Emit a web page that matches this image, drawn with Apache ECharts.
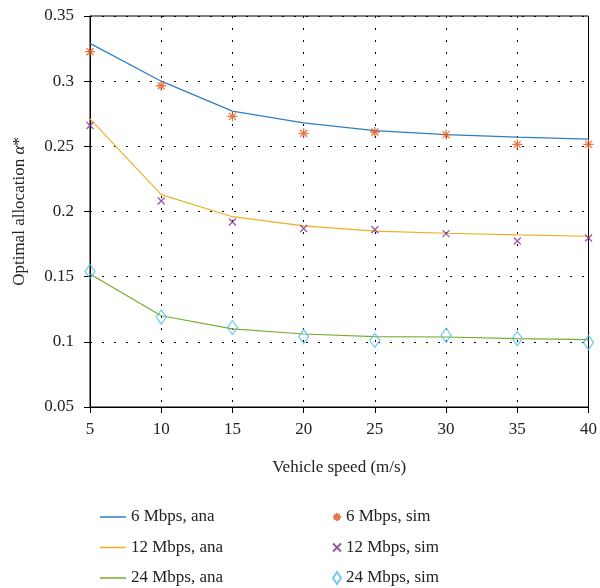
<!DOCTYPE html>
<html>
<head>
<meta charset="utf-8">
<script src="https://cdn.jsdelivr.net/npm/echarts@6/dist/echarts.min.js"></script>
<style>
  html, body { margin: 0; padding: 0; background: #fff; }
  #chart { width: 600px; height: 588px; }
</style>
</head>
<body>
<div id="chart"></div>
<script>
// vehicle speed (m/s)
var speeds = [5, 10, 15, 20, 25, 30, 35, 40];

// analytical curves
var ana6 = [0.329, 0.300, 0.277, 0.268, 0.262, 0.259, 0.257, 0.2555];
var ana12 = [0.271, 0.213, 0.196, 0.189, 0.185, 0.1833, 0.182, 0.181];
var ana24 = [0.152, 0.120, 0.110, 0.106, 0.104, 0.1037, 0.1025, 0.1017];

// simulation points
var sim6 = [0.3226, 0.2965, 0.273, 0.260, 0.261, 0.259, 0.2515, 0.2515];
var sim12 = [0.266, 0.208, 0.192, 0.187, 0.186, 0.183, 0.1774, 0.1797];
var sim24 = [0.154, 0.119, 0.111, 0.104, 0.101, 0.105, 0.1025, 0.0994];

var anaNames = ['6 Mbps, ana', '12 Mbps, ana', '24 Mbps, ana'];
var simNames = ['6 Mbps, sim', '12 Mbps, sim', '24 Mbps, sim'];

var FONT = '"Liberation Serif", "DejaVu Serif", serif';
var starPath = 'path://M0,-5L0,5M-5,0L5,0M-3.5,-3.5L3.5,3.5M-3.5,3.5L3.5,-3.5';
var crossPath = 'path://M-1,-1L1,1M-1,1L1,-1';

function pairs(vals) {
  return speeds.map(function (s, i) { return [s, vals[i]]; });
}

function lineSeries(name, vals, color) {
  return {
    name: name, type: 'line', data: pairs(vals),
    symbol: 'none', lineStyle: { color: color, width: 1.2 },
    itemStyle: { color: color }
  };
}

function simSeries(name, vals, color, symbol, size) {
  return {
    name: name, type: 'scatter', data: pairs(vals),
    symbol: symbol, symbolSize: size,
    itemStyle: { color: 'rgba(0,0,0,0)', borderColor: color, borderWidth: 1.3 },
    z: 3
  };
}

var legendText = { fontFamily: FONT, fontSize: 17, lineHeight: 18, color: '#222' };

var chart = echarts.init(document.getElementById('chart'));
chart.setOption({
  animation: false,
  textStyle: { fontFamily: FONT },
  grid: {
    left: 90, right: 11, top: 16, bottom: 181,
    show: true, borderColor: '#000', borderWidth: 1
  },
  xAxis: {
    type: 'value', min: 5, max: 40, interval: 5,
    name: 'Vehicle speed (m/s)', nameLocation: 'middle', nameGap: 52,
    nameTextStyle: { fontFamily: FONT, fontSize: 17, color: '#222' },
    axisLine: { lineStyle: { color: '#000', width: 1 } },
    axisTick: { inside: false, length: 6, lineStyle: { color: '#000' } },
    axisLabel: { fontFamily: FONT, fontSize: 17, color: '#222', margin: 14 },
    splitLine: { show: true, lineStyle: { color: '#000', type: [2, 10], width: 1 } }
  },
  yAxis: {
    type: 'value', min: 0.05, max: 0.35, interval: 0.05,
    name: 'Optimal allocation {i|α}*', nameLocation: 'middle', nameGap: 62,
    nameTextStyle: {
      fontFamily: FONT, fontSize: 17, color: '#222',
      rich: { i: { fontFamily: FONT, fontSize: 17, fontStyle: 'italic', color: '#222' } }
    },
    axisLine: { show: true, lineStyle: { color: '#000', width: 1 } },
    axisTick: { show: true, inside: false, length: 6, lineStyle: { color: '#000' } },
    axisLabel: {
      fontFamily: FONT, fontSize: 17, color: '#222', margin: 16,
      formatter: function (v) { return String(+v.toFixed(2)); }
    },
    splitLine: { show: true, lineStyle: { color: '#000', type: [2, 10], width: 1 } }
  },
  legend: [
    {
      orient: 'vertical', left: 100, top: 508, padding: 0,
      itemWidth: 26, itemHeight: 1.5, itemGap: 12.5,
      textStyle: legendText,
      data: anaNames.map(function (n) { return { name: n, icon: 'rect' }; })
    },
    {
      orient: 'vertical', left: 332, top: 508, padding: 0,
      itemWidth: 8, itemHeight: 12, itemGap: 12.5,
      textStyle: legendText,
      data: simNames
    }
  ],
  series: [
    lineSeries(anaNames[0], ana6, '#2E7EC6'),
    lineSeries(anaNames[1], ana12, '#EDB120'),
    lineSeries(anaNames[2], ana24, '#77AC30'),
    simSeries(simNames[0], sim6, '#E0561A', starPath, 10),
    simSeries(simNames[1], sim12, '#7E2F8E', crossPath, 7),
    simSeries(simNames[2], sim24, '#4DBEEE', 'diamond', [10, 14])
  ]
});
</script>
</body>
</html>
